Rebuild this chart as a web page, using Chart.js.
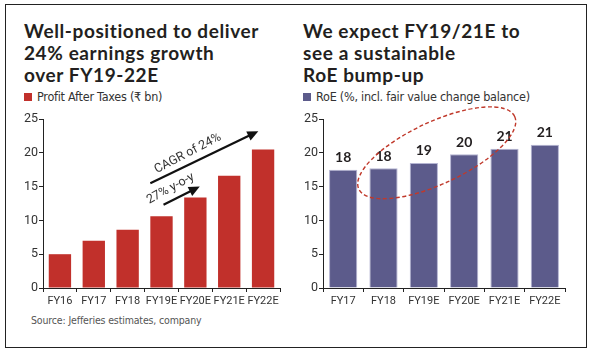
<!DOCTYPE html>
<html lang="en">
<head>
  <meta charset="UTF-8">
  <title>Profit and RoE</title>
  <script src="https://cdnjs.cloudflare.com/ajax/libs/Chart.js/4.4.1/chart.umd.min.js"></script>
  <style>
    body { margin: 0; background: #fff; }
    #frame { position: absolute; left: 5px; top: 4px; width: 580px; height: 342px; border: 1.5px solid #222; }
    .title { position: absolute; font-family: Lato, 'Open Sans', sans-serif; font-weight: 700; font-size: 19px; letter-spacing: 0.6px; line-height: 22px; color: #231f20; }
    .legend { position: absolute; font-family: 'DejaVu Sans', sans-serif; font-stretch: condensed; font-size: 12.5px; letter-spacing: -0.25px; color: #333; white-space: nowrap; }
    .legend i { display: inline-block; width: 8px; height: 8px; margin-right: 5px; vertical-align: 0px; }
    .source { position: absolute; left: 31px; top: 314px; font-family: 'DejaVu Sans', sans-serif; font-stretch: condensed; font-size: 10.5px; letter-spacing: -0.15px; color: #555; }
    canvas { position: absolute; }
  </style>
</head>
<body>
  <div id="frame"></div>

  <div class="title" style="left:24px; top:20px;">Well-positioned to deliver<br>24% earnings growth<br>over FY19-22E</div>
  <div class="legend" style="left:24px; top:89px;"><i style="background:#c1302b"></i>Profit After Taxes (₹ bn)</div>

  <div class="title" style="left:303px; top:20px;">We expect FY19/21E to<br>see a sustainable<br>RoE bump-up</div>
  <div class="legend" style="left:303px; top:89px;"><i style="background:#5c5b8b"></i>RoE (%, incl. fair value change balance)</div>

  <div class="source">Source: Jefferies estimates, company</div>

  <canvas id="patChart" width="285" height="222" style="left:5px; top:100px;"></canvas>
  <canvas id="roeChart" width="296" height="222" style="left:290px; top:100px;"></canvas>

  <script>
    // Profit After Taxes (Rs bn)
    const patYears = ['FY16', 'FY17', 'FY18', 'FY19E', 'FY20E', 'FY21E', 'FY22E'];
    const patValues = [5.0, 7.0, 8.6, 10.6, 13.4, 16.6, 20.5];

    // RoE (%)
    const roeYears = ['FY17', 'FY18', 'FY19E', 'FY20E', 'FY21E', 'FY22E'];
    const roeValues = [17.5, 17.7, 18.5, 19.8, 20.6, 21.2];

    const yTicks = [0, 5, 10, 15, 20, 25];

    const xFont = { family: "Roboto, sans-serif", size: 11 };
    const yFont = { family: "Roboto, sans-serif", size: 12.5 };

    function makeScales(yWidth) {
      return {
        x: {
          grid: { display: true, drawOnChartArea: false, drawTicks: true, tickLength: 4, offset: true, color: '#222' },
          border: { display: true, color: '#222', width: 1 },
          ticks: { color: '#333', font: xFont, padding: 3, maxRotation: 0, autoSkip: false },
          afterFit: s => { s.height = 34; }
        },
        y: {
          min: yTicks[0],
          max: yTicks[yTicks.length - 1],
          afterBuildTicks: s => { s.ticks = yTicks.map(v => ({ value: v })); },
          grid: { display: true, drawOnChartArea: false, drawTicks: true, tickLength: 4, color: '#222' },
          border: { display: true, color: '#222', width: 1 },
          ticks: { color: '#333', font: yFont, padding: 1 },
          afterFit: s => { s.width = yWidth; }
        }
      };
    }

    // arrows + rotated notes on the profit chart, placed in data units
    const arrowNotes = {
      id: 'arrowNotes',
      afterDatasetsDraw(chart) {
        const { ctx, scales: { x, y } } = chart;
        const arrows = [
          { from: [2.67, 15.5], to: [5.86, 23.2], text: 'CAGR of 24%', at: [3.78, 19.9] },
          { from: [3.06, 12.3], to: [4.13, 15.0], text: '27% y-o-y', at: [3.27, 14.7] }
        ];
        ctx.save();
        arrows.forEach(a => {
          const x1 = x.getPixelForValue(a.from[0]), y1 = y.getPixelForValue(a.from[1]);
          const x2 = x.getPixelForValue(a.to[0]), y2 = y.getPixelForValue(a.to[1]);
          const ang = Math.atan2(y2 - y1, x2 - x1);
          const head = 11, half = 5;
          ctx.strokeStyle = '#111';
          ctx.fillStyle = '#111';
          ctx.lineWidth = 2.2;
          ctx.beginPath();
          ctx.moveTo(x1, y1);
          ctx.lineTo(x2 - Math.cos(ang) * head * 0.8, y2 - Math.sin(ang) * head * 0.8);
          ctx.stroke();
          ctx.beginPath();
          ctx.moveTo(x2, y2);
          ctx.lineTo(x2 - Math.cos(ang) * head + Math.sin(ang) * half, y2 - Math.sin(ang) * head - Math.cos(ang) * half);
          ctx.lineTo(x2 - Math.cos(ang) * head - Math.sin(ang) * half, y2 - Math.sin(ang) * head + Math.cos(ang) * half);
          ctx.closePath();
          ctx.fill();

          ctx.save();
          ctx.translate(x.getPixelForValue(a.at[0]), y.getPixelForValue(a.at[1]));
          ctx.rotate(ang - 0.03);
          ctx.font = "12.5px Roboto, sans-serif";
          ctx.fillStyle = '#333';
          ctx.textAlign = 'center';
          ctx.textBaseline = 'middle';
          ctx.fillText(a.text, 0, 0);
          ctx.restore();
        });
        ctx.restore();
      }
    };

    // value labels + dashed ellipse on the RoE chart
    const roeNotes = {
      id: 'roeNotes',
      afterDatasetsDraw(chart) {
        const { ctx, scales: { x, y } } = chart;
        const meta = chart.getDatasetMeta(0);
        ctx.save();
        ctx.font = "bold 14px Lato, 'Open Sans', sans-serif";
        ctx.fillStyle = '#231f20';
        ctx.textAlign = 'center';
        ctx.textBaseline = 'bottom';
        meta.data.forEach((bar, i) => {
          ctx.fillText(Math.round(roeValues[i]), bar.x, bar.y - 5);
        });

        const cx = x.getPixelForValue(2.32), cy = y.getPixelForValue(20.0);
        ctx.strokeStyle = '#c0392b';
        ctx.lineWidth = 1.4;
        ctx.setLineDash([4, 2.5]);
        ctx.beginPath();
        ctx.ellipse(cx, cy, 86, 31, -25 * Math.PI / 180, 0, Math.PI * 2);
        ctx.stroke();
        ctx.restore();
      }
    };

    new Chart(document.getElementById('patChart').getContext('2d'), {
      type: 'bar',
      data: {
        labels: patYears,
        datasets: [{
          data: patValues,
          backgroundColor: '#c1302b',
          borderWidth: 0,
          categoryPercentage: 0.66,
          barPercentage: 1.0
        }]
      },
      options: {
        responsive: false,
        animation: false,
        layout: { padding: { top: 19, right: 10, left: 0, bottom: 0 } },
        plugins: { legend: { display: false }, tooltip: { enabled: false } },
        scales: makeScales(38)
      },
      plugins: [arrowNotes]
    });

    new Chart(document.getElementById('roeChart').getContext('2d'), {
      type: 'bar',
      data: {
        labels: roeYears,
        datasets: [{
          data: roeValues,
          backgroundColor: '#5c5b8b',
          borderColor: '#b4b4d2',
          borderWidth: 1,
          categoryPercentage: 0.7,
          barPercentage: 1.0
        }]
      },
      options: {
        responsive: false,
        animation: false,
        layout: { padding: { top: 19, right: 21, left: 0, bottom: 0 } },
        plugins: { legend: { display: false }, tooltip: { enabled: false } },
        scales: makeScales(33)
      },
      plugins: [roeNotes]
    });
  </script>
</body>
</html>
